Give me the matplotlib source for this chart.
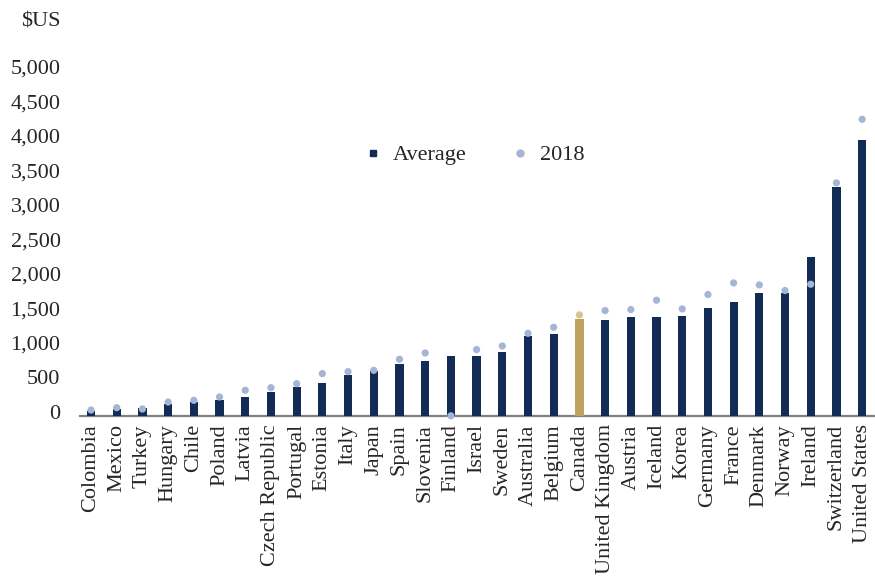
import numpy as np
import matplotlib.pyplot as plt
from matplotlib.lines import Line2D
from matplotlib.transforms import ScaledTranslation

countries = ['Colombia', 'Mexico', 'Turkey', 'Hungary', 'Chile', 'Poland', 'Latvia',
             'Czech Republic', 'Portugal', 'Estonia', 'Italy', 'Japan', 'Spain', 'Slovenia',
             'Finland', 'Israel', 'Sweden', 'Australia', 'Belgium', 'Canada',
             'United Kingdom', 'Austria', 'Iceland', 'Korea', 'Germany', 'France',
             'Denmark', 'Norway', 'Ireland', 'Switzerland', 'United States']
average = [74, 99, 113, 171, 205, 225, 273, 350, 418, 482, 592, 656, 747, 801,
           863, 863, 926, 1164, 1183, 1400, 1396, 1429, 1429, 1454, 1570, 1657,
           1777, 1788, 2300, 3320, 3997]
y2018 = [84, 118, 99, 200, 225, 273, 370, 408, 467, 612, 641, 660, 820, 911,
         0, 961, 1013, 1197, 1284, 1463, 1526, 1541, 1676, 1550, 1759, 1927,
         1898, 1817, 1908, 3378, 4300]
yticks = list(range(0, 5001, 500))

navy = '#132c55'
light = '#a5b5d4'
gold = '#bca35f'
gold_light = '#d8c48e'
txt = '#262626'

plt.rcParams['font.family'] = ['Liberation Serif', 'DejaVu Serif']

fig = plt.figure(figsize=(8.75, 5.81), dpi=100)
ax = fig.add_axes([0.0914, 0.2843, 0.9086, 0.5935])

x = np.arange(len(countries))
bar_colors = [gold if c == 'Canada' else navy for c in countries]
dot_colors = [gold_light if c == 'Canada' else light for c in countries]
ax.bar(x, average, width=0.32, color=bar_colors, zorder=2)
ax.scatter(x, y2018, s=27, color=dot_colors, zorder=3, clip_on=False, linewidths=0)

ax.set_xlim(-0.43, 30.5)
ax.set_ylim(0, 5000)
ax.set_yticks(yticks)
ax.set_yticklabels([f'{v:,}' for v in yticks], fontsize=16, color=txt)
ax.set_xticks(x)
ax.set_xticklabels(countries, rotation=90, fontsize=16, color=txt)
ax.tick_params(axis='both', length=0)
ax.tick_params(axis='y', pad=14)
ax.tick_params(axis='x', pad=6)

# y labels sit a little above their values in the original
shift = ScaledTranslation(0, 3 / 72, fig.dpi_scale_trans)
for lab in ax.get_yticklabels():
    lab.set_transform(lab.get_transform() + shift)

for s in ['top', 'right', 'left']:
    ax.spines[s].set_visible(False)
ax.spines['bottom'].set_color('#808080')
ax.spines['bottom'].set_linewidth(1.6)
ax.spines['bottom'].set_zorder(1)

fig.text(0.069, 0.962, '$US', fontsize=16, color=txt, ha='right', va='center')

handles = [Line2D([], [], marker='s', linestyle='none', color=navy, markersize=5),
           Line2D([], [], marker='o', linestyle='none', color=light, markersize=5)]
fig.legend(handles, ['Average', '2018'], loc='center', bbox_to_anchor=(0.543, 0.733),
           ncol=2, frameon=False, fontsize=16, columnspacing=2.1, handlelength=0.6,
           handletextpad=0.6, labelcolor=txt)

fig.savefig('out.png', dpi=100)
